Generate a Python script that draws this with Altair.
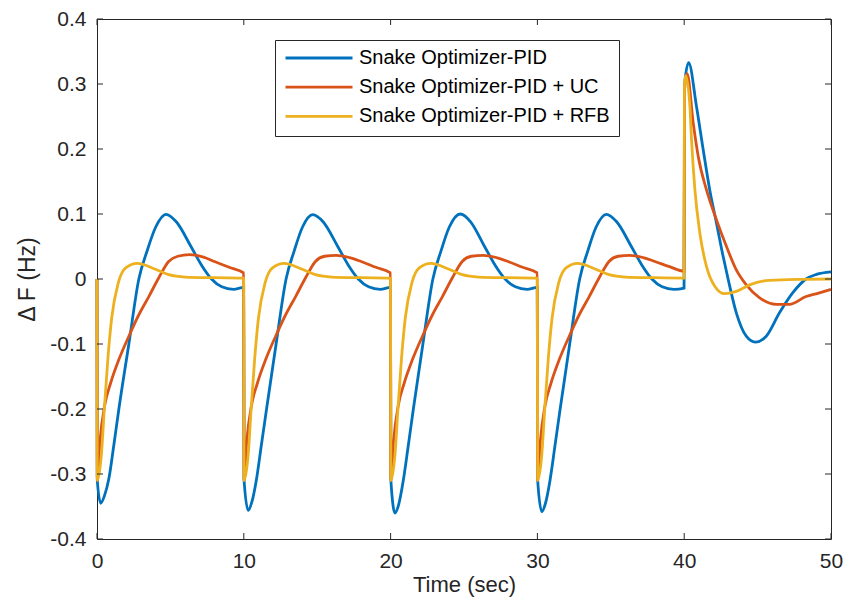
import altair as alt
import pandas as pd

series_names = ["Snake Optimizer-PID", "Snake Optimizer-PID + UC", "Snake Optimizer-PID + RFB"]
series_colors = ["#0072BD", "#D95319", "#EDB120"]

# Snake Optimizer-PID (blue)
blue_t = [0.0, 0.02, 0.25, 0.5, 0.81, 1.15, 1.49, 2.17, 2.85, 3.41, 4.0, 4.7, 5.4, 6.4, 7.1, 7.8, 8.5, 9.3, 9.99,
          10.02, 10.3, 10.55, 10.85, 11.2, 11.55, 12.2, 12.88, 13.43, 14.0, 14.7, 15.4, 16.4, 17.1, 17.8, 18.5, 19.3, 19.99,
          20.02, 20.3, 20.55, 20.85, 21.2, 21.55, 22.2, 22.88, 23.43, 24.0, 24.75, 25.45, 26.4, 27.1, 27.8, 28.5, 29.3, 29.99,
          30.02, 30.3, 30.55, 30.85, 31.2, 31.55, 32.2, 32.88, 33.43, 34.0, 34.7, 35.4, 36.4, 37.1, 37.8, 38.5, 39.3, 39.99,
          40.03, 40.3, 40.84, 41.3, 41.74, 42.2, 42.65, 42.99, 43.55, 44.23, 44.84, 45.59, 46.49, 47.4, 48.3, 49.0, 50.0]
blue_v = [0.0, -0.31, -0.345, -0.334, -0.307, -0.255, -0.2, -0.1, 0.0, 0.043, 0.08, 0.0995, 0.088, 0.05, 0.022, 0.0, -0.012, -0.016, -0.013,
          -0.31, -0.356, -0.343, -0.31, -0.255, -0.2, -0.1, 0.0, 0.043, 0.08, 0.099, 0.088, 0.05, 0.022, 0.0, -0.012, -0.016, -0.013,
          -0.31, -0.36, -0.347, -0.312, -0.257, -0.2, -0.1, 0.0, 0.043, 0.08, 0.1, 0.088, 0.05, 0.022, 0.0, -0.012, -0.016, -0.013,
          -0.31, -0.358, -0.345, -0.311, -0.256, -0.2, -0.1, 0.0, 0.043, 0.08, 0.0995, 0.088, 0.05, 0.022, 0.0, -0.012, -0.016, -0.014,
          0.30, 0.333, 0.265, 0.198, 0.137, 0.086, 0.035, 0.0, -0.052, -0.088, -0.097, -0.088, -0.052, -0.021, 0.0, 0.007, 0.011]

# Snake Optimizer-PID + UC (orange)
orange_t = [0.0, 0.02, 0.2, 0.52, 0.93, 1.49, 2.17, 2.85, 3.53, 4.2, 4.88, 5.5, 6.3, 7.2, 8.0, 9.0, 9.99,
            10.02, 10.2, 10.52, 10.93, 11.49, 12.17, 12.85, 13.53, 14.2, 14.88, 15.5, 16.3, 17.2, 18.0, 19.0, 19.99,
            20.02, 20.2, 20.52, 20.93, 21.49, 22.17, 22.85, 23.53, 24.2, 24.88, 25.5, 26.3, 27.2, 28.0, 29.0, 29.99,
            30.02, 30.2, 30.52, 30.93, 31.49, 32.17, 32.85, 33.53, 34.2, 34.88, 35.5, 36.3, 37.2, 38.0, 39.0, 39.99,
            40.02, 40.2, 40.62, 40.96, 41.52, 42.2, 42.88, 43.55, 44.23, 45.14, 46.27, 47.17, 48.3, 49.1, 50.0]
orange_v = [0.0, -0.31, -0.25, -0.195, -0.16, -0.124, -0.088, -0.055, -0.027, 0.0015, 0.027, 0.035, 0.0375, 0.034, 0.027, 0.018, 0.0095,
            -0.31, -0.25, -0.195, -0.16, -0.124, -0.088, -0.055, -0.027, 0.0015, 0.027, 0.035, 0.0365, 0.033, 0.027, 0.018, 0.0095,
            -0.31, -0.25, -0.195, -0.16, -0.124, -0.088, -0.055, -0.027, 0.0015, 0.027, 0.035, 0.0365, 0.033, 0.027, 0.018, 0.0095,
            -0.31, -0.25, -0.195, -0.16, -0.124, -0.088, -0.055, -0.027, 0.0015, 0.027, 0.035, 0.0365, 0.033, 0.027, 0.019, 0.012,
            0.29, 0.316, 0.239, 0.188, 0.137, 0.091, 0.05, 0.014, -0.009, -0.029, -0.039, -0.039, -0.027, -0.022, -0.016]

# Snake Optimizer-PID + RFB (yellow)
yellow_t = [0.0, 0.02, 0.3, 0.5, 0.75, 1.0, 1.45, 1.95, 2.74, 3.98, 4.88, 6.0, 8.0, 9.99,
            10.02, 10.3, 10.5, 10.75, 11.0, 11.45, 11.95, 12.74, 13.98, 14.88, 16.0, 18.0, 19.99,
            20.02, 20.3, 20.5, 20.75, 21.0, 21.45, 21.95, 22.74, 23.98, 24.88, 26.0, 28.0, 29.99,
            30.02, 30.3, 30.5, 30.75, 31.0, 31.45, 31.95, 32.74, 33.98, 34.88, 36.0, 38.0, 39.99,
            40.02, 40.1, 40.39, 40.5, 40.73, 41.07, 41.52, 42.08, 42.76, 43.55, 44.46, 45.81, 48.1, 50.0]
yellow_v = [0.0, -0.31, -0.27, -0.2, -0.12, -0.06, -0.006, 0.017, 0.024, 0.015, 0.0066, 0.003, 0.002, 0.0015,
            -0.31, -0.27, -0.2, -0.12, -0.06, -0.006, 0.017, 0.024, 0.015, 0.0066, 0.003, 0.002, 0.0015,
            -0.31, -0.27, -0.2, -0.12, -0.06, -0.006, 0.017, 0.024, 0.015, 0.0066, 0.003, 0.002, 0.0015,
            -0.31, -0.27, -0.2, -0.12, -0.06, -0.006, 0.017, 0.024, 0.015, 0.0066, 0.003, 0.002, 0.0015,
            0.30, 0.313, 0.265, 0.214, 0.137, 0.07, 0.019, -0.011, -0.0226, -0.019, -0.009, -0.002, -0.0005, 0.0]

x_ticks = [0, 10, 20, 30, 40, 50]
y_ticks = [-0.4, -0.3, -0.2, -0.1, 0.0, 0.1, 0.2, 0.3, 0.4]

W, H = 734, 520
FONT = "Liberation Sans"
AX = "#262626"

rows = []
for name, ts, vs in [(series_names[0], blue_t, blue_v),
                     (series_names[1], orange_t, orange_v),
                     (series_names[2], yellow_t, yellow_v)]:
    for t, v in zip(ts, vs):
        rows.append({"t": t, "v": v, "series": name})
df = pd.DataFrame(rows)

xscale = alt.Scale(domain=[0, 50], nice=False, zero=False)
yscale = alt.Scale(domain=[-0.4, 0.4], nice=False, zero=False)

label_expr_y = "datum.value == 0 ? '0' : (datum.value < 0 ? '-' : '') + format(abs(datum.value), '.1f')"

lines = alt.Chart(df).mark_line(strokeWidth=2.8, interpolate="monotone").encode(
    x=alt.X("t:Q", scale=xscale,
            axis=alt.Axis(values=x_ticks, format="d", ticks=False, domain=False, grid=False,
                          labelFlush=False,
                          labelFontSize=21, labelFont=FONT, labelColor=AX, labelPadding=11,
                          title="Time (sec)", titleFontSize=22, titleFont=FONT,
                          titleFontWeight="normal", titleColor=AX, titlePadding=3)),
    y=alt.Y("v:Q", scale=yscale,
            axis=alt.Axis(values=y_ticks, labelExpr=label_expr_y, ticks=False, domain=False, grid=False,
                          labelFlush=False,
                          labelFontSize=21, labelFont=FONT, labelColor=AX, labelPadding=11,
                          title="\u0394 F (Hz)", titleFontSize=23, titleFont=FONT,
                          titleFontWeight="normal", titleColor=AX,
                          titleX=-70, titleY=260, titleAngle=270,
                          titleAlign="center", titleBaseline="middle")),
    color=alt.Color("series:N",
                    scale=alt.Scale(domain=series_names, range=series_colors),
                    sort=series_names,
                    legend=alt.Legend(orient="none", legendX=178, legendY=21, title=None,
                                      symbolType="stroke", symbolSize=4489, symbolStrokeWidth=2.8,
                                      labelFontSize=20, labelFont=FONT, labelColor="#000000",
                                      labelOffset=5, labelLimit=0, padding=9, rowPadding=9.2,
                                      clipHeight=18, strokeColor=AX, fillColor="white")),
)

xt_df = pd.DataFrame({"t": x_ticks})
yt_df = pd.DataFrame({"v": y_ticks})

tick_left = alt.Chart(yt_df).mark_rule(color=AX, strokeWidth=1).encode(
    y=alt.Y("v:Q"), x=alt.value(0), x2=alt.value(6))
tick_right = alt.Chart(yt_df).mark_rule(color=AX, strokeWidth=1).encode(
    y=alt.Y("v:Q"), x=alt.value(W - 6), x2=alt.value(W))
tick_bottom = alt.Chart(xt_df).mark_rule(color=AX, strokeWidth=1).encode(
    x=alt.X("t:Q"), y=alt.value(H - 6), y2=alt.value(H))
tick_top = alt.Chart(xt_df).mark_rule(color=AX, strokeWidth=1).encode(
    x=alt.X("t:Q"), y=alt.value(0), y2=alt.value(6))

chart = alt.layer(lines, tick_left, tick_right, tick_bottom, tick_top).properties(
    width=W, height=H,
    autosize=alt.AutoSizeParams(type="none"),
    padding={"left": 89, "top": 11, "right": 12, "bottom": 58},
    background="white",
).configure_view(stroke=AX, strokeWidth=1)

chart.save("out.html", embed_options={"renderer": "svg", "actions": False})
